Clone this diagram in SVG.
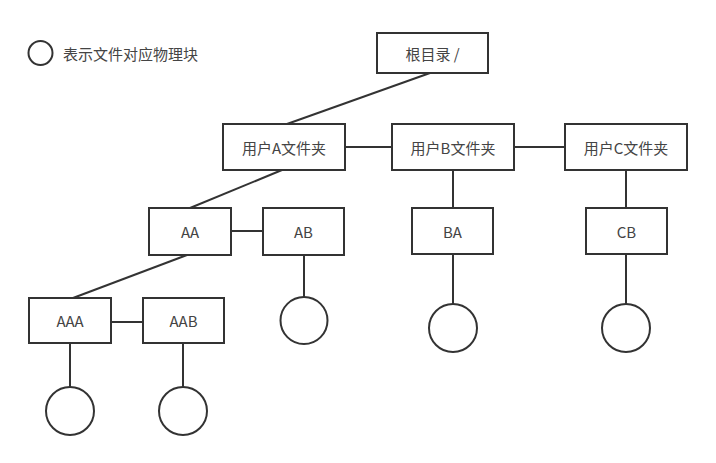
<svg xmlns="http://www.w3.org/2000/svg" width="716" height="463" viewBox="0 0 716 463">
<style>
.box{fill:#fff;stroke:#333;stroke-width:2}
.c{fill:#fff;stroke:#333;stroke-width:2}
.t{font-family:"Noto Sans CJK SC","Noto Sans",sans-serif;font-size:15px;fill:#444;text-anchor:middle;dominant-baseline:central}
.e{stroke:#333;stroke-width:2;fill:none}
</style>
<rect width="716" height="463" fill="#fff"/>
<g id="connectors">
<line class="e" x1="430" y1="73" x2="287" y2="124"/>
<line class="e" x1="345" y1="147" x2="392" y2="147"/>
<line class="e" x1="514" y1="147" x2="565" y2="147"/>
<line class="e" x1="282" y1="170" x2="190" y2="208"/>
<line class="e" x1="453" y1="170" x2="453" y2="208"/>
<line class="e" x1="626" y1="170" x2="626" y2="208"/>
<line class="e" x1="231" y1="231" x2="263" y2="231"/>
<line class="e" x1="187" y1="255" x2="73" y2="298"/>
<line class="e" x1="111" y1="322" x2="143" y2="322"/>
<line class="e" x1="304" y1="255" x2="304" y2="297"/>
<line class="e" x1="453" y1="254" x2="453" y2="304"/>
<line class="e" x1="626" y1="254" x2="626" y2="304"/>
<line class="e" x1="70" y1="343" x2="70" y2="387"/>
<line class="e" x1="183" y1="343" x2="183" y2="387"/>
</g>
<g id="legend">
<circle class="c" cx="40.5" cy="53" r="12"/>
<text class="t" x="63" y="53" style="text-anchor:start">表示文件对应物理块</text>
</g>
<g id="root"><rect class="box" x="377" y="33" width="111" height="40"/><text class="t" x="432.5" y="53">根目录 /</text></g>
<g id="userA"><rect class="box" x="223" y="124" width="122" height="46"/><text class="t" x="284" y="147">用户A文件夹</text></g>
<g id="userB"><rect class="box" x="392" y="124" width="122" height="46"/><text class="t" x="453" y="147">用户B文件夹</text></g>
<g id="userC"><rect class="box" x="565" y="124" width="122" height="46"/><text class="t" x="626" y="147">用户C文件夹</text></g>
<g id="AA"><rect class="box" x="149" y="208" width="82" height="47"/><text class="t" x="190" y="231.5">AA</text></g>
<g id="AB"><rect class="box" x="263" y="208" width="81" height="47"/><text class="t" x="303.5" y="231.5">AB</text></g>
<g id="BA"><rect class="box" x="412" y="208" width="81" height="46"/><text class="t" x="452.5" y="231">BA</text></g>
<g id="CB"><rect class="box" x="586" y="208" width="81" height="46"/><text class="t" x="626.5" y="231">CB</text></g>
<g id="AAA"><rect class="box" x="29" y="298" width="82" height="45"/><text class="t" x="70" y="320.5">AAA</text></g>
<g id="AAB"><rect class="box" x="143" y="298" width="81" height="45"/><text class="t" x="183.5" y="320.5">AAB</text></g>
<g id="blockAB"><circle class="c" cx="304" cy="320.5" r="23.5"/></g>
<g id="blockBA"><circle class="c" cx="453" cy="328" r="24"/></g>
<g id="blockCB"><circle class="c" cx="626" cy="328" r="24"/></g>
<g id="blockAAA"><circle class="c" cx="70" cy="411" r="24"/></g>
<g id="blockAAB"><circle class="c" cx="183" cy="411" r="24"/></g>
</svg>
